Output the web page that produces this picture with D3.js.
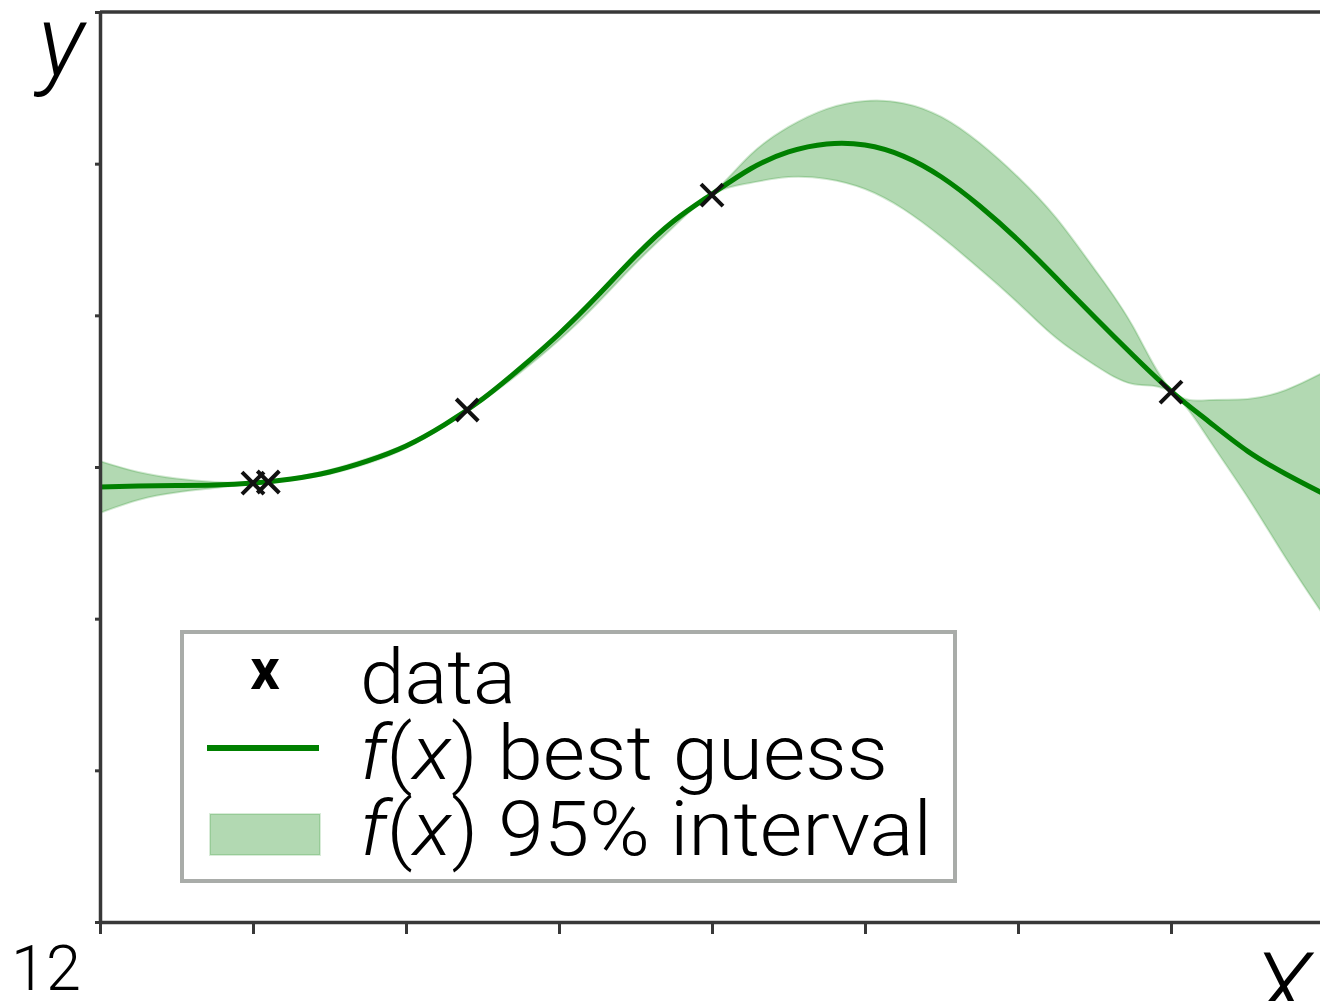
<!DOCTYPE html>
<html>
<head>
<meta charset="utf-8">
<script src="https://cdn.jsdelivr.net/npm/d3@7"></script>
<style>
  html, body { margin: 0; padding: 0; background: #fff; }
  svg { display: block; }
  text { font-family: Roboto, "Liberation Sans", sans-serif; font-weight: 300; fill: #000; }
</style>
</head>
<body>
<svg id="chart" width="1320" height="1001"></svg>
<script>
// Observations
const dataX = [1.0, 1.1, 2.4, 4.0, 7.0];
const dataY = [2.894, 2.901, 3.376, 4.793, 3.494];

// Posterior evaluated on a grid
const gridX = [0, 0.25, 0.5, 0.75, 1, 1.25, 1.5, 1.75, 2, 2.25, 2.5, 2.75, 3, 3.25, 3.5, 3.75,
               4, 4.25, 4.5, 4.75, 5, 5.25, 5.5, 5.75, 6, 6.25, 6.5, 6.75, 7, 7.25, 7.5, 7.75, 8];
const meanY = [2.868, 2.875, 2.878, 2.881, 2.894, 2.921, 2.967, 3.040, 3.138, 3.277, 3.448, 3.653,
               3.877, 4.127, 4.391, 4.622, 4.800, 4.965, 5.077, 5.130, 5.123, 5.050, 4.912, 4.721,
               4.497, 4.246, 3.989, 3.738, 3.501, 3.297, 3.105, 2.954, 2.822];
const upperY = [3.039, 2.967, 2.924, 2.901, 2.897, 2.928, 2.980, 3.056, 3.151, 3.284, 3.458, 3.668,
                3.890, 4.140, 4.404, 4.635, 4.803, 5.057, 5.242, 5.361, 5.413, 5.399, 5.308, 5.136,
                4.912, 4.642, 4.305, 3.929, 3.508, 3.442, 3.448, 3.508, 3.626];
const lowerY = [2.697, 2.783, 2.832, 2.861, 2.891, 2.914, 2.954, 3.024, 3.125, 3.270, 3.438, 3.625,
                3.835, 4.078, 4.342, 4.584, 4.797, 4.873, 4.912, 4.899, 4.833, 4.701, 4.516, 4.306,
                4.082, 3.850, 3.673, 3.547, 3.494, 3.178, 2.802, 2.400, 2.018];

// Axis ticks (unlabelled)
const xTickValues = [0, 1, 2, 3, 4, 5, 6, 7, 8];
const yTickValues = [0, 1, 2, 3, 4, 5, 6];

const legendLabels = ["data", "best guess", "95% interval"];

const svg = d3.select("#chart");
const padL = 100, padT = 12, plotBottom = 922, plotRight = 1324;

const x = d3.scaleLinear().domain([0, 8]).range([padL, plotRight]);
const y = d3.scaleLinear().domain([0, 6]).range([plotBottom, padT]);

const green = "#008000";
const spine = "#383838";

const pts = gridX.map((gx, i) => ({ x: gx, m: meanY[i], lo: lowerY[i], hi: upperY[i] }));

svg.append("clipPath").attr("id", "plotclip")
  .append("rect").attr("x", padL).attr("y", padT).attr("width", plotRight - padL).attr("height", plotBottom - padT);

const plot = svg.append("g").attr("clip-path", "url(#plotclip)");

// 95% band
plot.append("path")
  .datum(pts)
  .attr("d", d3.area().x(d => x(d.x)).y0(d => y(d.lo)).y1(d => y(d.hi)).curve(d3.curveNatural))
  .attr("fill", green).attr("fill-opacity", 0.3)
  .attr("stroke", green).attr("stroke-opacity", 0.18).attr("stroke-width", 2);

// Mean curve
plot.append("path")
  .datum(pts)
  .attr("d", d3.line().x(d => x(d.x)).y(d => y(d.m)).curve(d3.curveNatural))
  .attr("fill", "none").attr("stroke", green).attr("stroke-width", 5);

// Observation markers
const ms = 11;
const markers = svg.append("g");
dataX.forEach((dx, i) => {
  const cx = x(dx), cy = y(dataY[i]);
  markers.append("path")
    .attr("d", `M${cx - ms},${cy - ms}L${cx + ms},${cy + ms}M${cx - ms},${cy + ms}L${cx + ms},${cy - ms}`)
    .attr("stroke", "#111").attr("stroke-width", 4).attr("fill", "none");
});

// Axes
const gy = svg.append("g").attr("transform", `translate(${padL},0)`)
  .call(d3.axisLeft(y).tickValues(yTickValues).tickSize(5).tickSizeOuter(0).tickFormat(""));
const gx = svg.append("g").attr("transform", `translate(0,${plotBottom})`)
  .call(d3.axisBottom(x).tickValues(xTickValues).tickSize(12).tickSizeOuter(0).tickFormat(""));
[gy, gx].forEach(g => {
  g.select(".domain").attr("stroke", spine).attr("stroke-width", 3.5);
  g.selectAll(".tick line").attr("stroke", spine).attr("stroke-width", 3);
});
svg.append("line").attr("x1", padL).attr("x2", plotRight).attr("y1", padT).attr("y2", padT)
  .attr("stroke", spine).attr("stroke-width", 3.5);

// Axis labels
svg.append("text").attr("x", 38).attr("y", 76).attr("font-size", 100).attr("font-style", "italic").text("y");
svg.append("text").attr("x", 1254).attr("y", 1021).attr("font-size", 96).attr("font-style", "italic").text("X");
svg.append("text").attr("x", 11).attr("y", 990).attr("font-size", 63).text("12");

// Legend
const lg = svg.append("g");
lg.append("rect").attr("x", 182).attr("y", 632).attr("width", 773).attr("height", 249)
  .attr("fill", "#fff").attr("stroke", "#a9aca9").attr("stroke-width", 4);

lg.append("text").attr("x", 265).attr("y", 689).attr("text-anchor", "middle")
  .attr("font-family", "'Liberation Sans', Arial, sans-serif")
  .attr("font-size", 58).style("font-weight", 700).text("x");

lg.append("line").attr("x1", 207).attr("x2", 319).attr("y1", 748).attr("y2", 748)
  .attr("stroke", green).attr("stroke-width", 6);

lg.append("rect").attr("x", 210).attr("y", 814).attr("width", 110).attr("height", 41)
  .attr("fill", green).attr("fill-opacity", 0.3)
  .attr("stroke", green).attr("stroke-opacity", 0.15).attr("stroke-width", 2);

const fs = 76;
const tx = 360;
const baselines = [703, 779, 855];
const widths = [156, 528, 572];
lg.append("text").attr("x", tx).attr("y", baselines[0]).attr("font-size", fs)
  .attr("textLength", widths[0]).attr("lengthAdjust", "spacingAndGlyphs").text(legendLabels[0]);
[1, 2].forEach(k => {
  const t = lg.append("text").attr("x", tx).attr("y", baselines[k]).attr("font-size", fs)
    .attr("textLength", widths[k]).attr("lengthAdjust", "spacingAndGlyphs");
  t.append("tspan").attr("font-style", "italic").text("f");
  t.append("tspan").text("(");
  t.append("tspan").attr("font-style", "italic").text("x");
  t.append("tspan").text(") " + legendLabels[k]);
});
</script>
</body>
</html>
